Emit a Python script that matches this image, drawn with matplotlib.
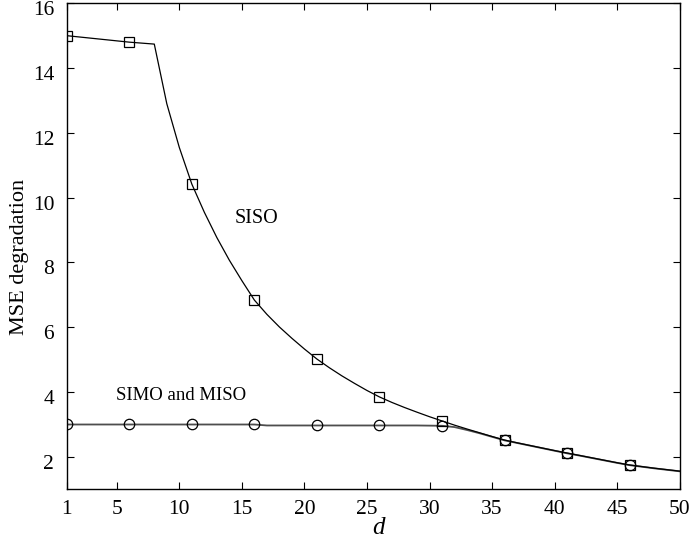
import matplotlib
matplotlib.use("Agg")
import matplotlib.pyplot as plt
import matplotlib.transforms as mtransforms

d = list(range(1, 51))
siso = [15.00, 14.96, 14.92, 14.88, 14.84, 14.80, 14.77, 14.74, 12.90, 11.55,
        10.42, 9.55, 8.77, 8.07, 7.44, 6.84, 6.40, 6.01, 5.66, 5.33,
        5.02, 4.75, 4.50, 4.27, 4.05, 3.85, 3.68, 3.525, 3.38, 3.24,
        3.11, 2.98, 2.86, 2.745, 2.63, 2.52, 2.435, 2.355, 2.275, 2.195,
        2.12, 2.045, 1.97, 1.895, 1.82, 1.75, 1.70, 1.65, 1.605, 1.56]
simo = [3.00, 3.00, 3.00, 3.00, 3.00, 3.00, 3.00, 3.00, 3.00, 3.00,
        3.00, 3.00, 3.00, 3.00, 3.00, 3.00, 2.97, 2.97, 2.97, 2.97,
        2.97, 2.97, 2.97, 2.97, 2.97, 2.97, 2.97, 2.97, 2.97, 2.965,
        2.96, 2.92, 2.83, 2.73, 2.62, 2.51, 2.43, 2.35, 2.27, 2.19,
        2.11, 2.04, 1.965, 1.89, 1.815, 1.745, 1.695, 1.645, 1.60, 1.555]
marker_every = 5
xticks = [1, 5, 10, 15, 20, 25, 30, 35, 40, 45, 50]
yticks = [2, 4, 6, 8, 10, 12, 14, 16]

plt.rcParams['font.family'] = ['Liberation Serif', 'DejaVu Serif']
fig = plt.figure(figsize=(6.95, 5.45), dpi=100)
ax = fig.add_axes([0.096, 0.1022, 0.882, 0.8918])

ax.plot(d, simo, color='0.3', lw=1.3, marker='o', markevery=marker_every,
        ms=7.5, mfc='none', mec='black', mew=0.9)
ax.plot(d, siso, color='black', lw=0.9, marker='s', markevery=marker_every,
        ms=7, mfc='none', mec='black', mew=0.9)

ax.set_xlim(1, 50)
ax.set_ylim(1, 16)
ax.set_xticks(xticks)
ax.set_yticks(yticks)
ax.tick_params(direction='in', length=5, width=0.8, top=True, right=True,
               labelsize=15.5)
ax.tick_params(axis='x', pad=8)
ax.tick_params(axis='y', pad=9)
for s in ax.spines.values():
    s.set_linewidth(1.0)

# y tick labels sit slightly below their ticks in the reference
offset = mtransforms.ScaledTranslation(0, -5 / 100, fig.dpi_scale_trans)
for lab in ax.get_yticklabels():
    lab.set_transform(lab.get_transform() + offset)

ax.set_ylabel('MSE degradation', fontsize=16)
ax.yaxis.set_label_coords(-0.062, 0.478)
fig.text(378 / 695, 1 - 528 / 545, 'd', fontsize=18, style='italic',
         ha='center', va='center')

ax.text(14.44, 9.37, 'SISO', fontsize=14.5, ha='left', va='center')
ax.text(4.95, 3.91, 'SIMO and MISO', fontsize=13.5, ha='left', va='center')

fig.savefig('out.png', dpi=100)
